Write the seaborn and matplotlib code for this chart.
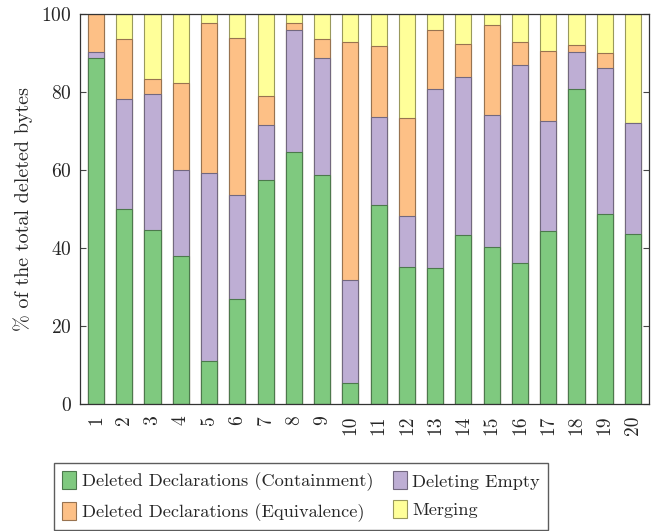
import numpy as np
import pandas as pd
import matplotlib.pyplot as plt
import seaborn as sns

samples = [str(i) for i in range(1, 21)]
containment = [88.6, 50.0, 44.7, 38.0, 11.0, 26.8, 57.5, 64.6, 58.8, 5.4,
               51.0, 35.2, 34.8, 43.4, 40.2, 36.2, 44.3, 80.7, 48.7, 43.5]
deleting_empty = [1.7, 28.1, 34.8, 22.0, 48.3, 26.7, 14.0, 31.3, 30.0, 26.5,
                  22.7, 12.9, 46.0, 40.5, 34.0, 50.8, 28.2, 9.6, 37.4, 28.6]
equivalence = [9.7, 15.5, 3.8, 22.2, 38.4, 40.3, 7.4, 1.7, 4.7, 60.8,
               18.0, 25.2, 15.2, 8.5, 23.1, 5.7, 18.1, 1.8, 3.8, 0.0]
merging = [0.0, 6.4, 16.7, 17.8, 2.3, 6.2, 21.1, 2.4, 6.5, 7.3,
           8.3, 26.7, 4.0, 7.6, 2.7, 7.3, 9.4, 7.9, 10.1, 27.9]

series = [
    ("Deleted Declarations (Containment)", containment, "#7fc97f"),
    ("Deleting Empty", deleting_empty, "#beaed4"),
    ("Deleted Declarations (Equivalence)", equivalence, "#fdc086"),
    ("Merging", merging, "#ffff99"),
]

sns.set_style("white")
plt.rcParams['font.family'] = ['cmr10', 'DejaVu Serif']
plt.rcParams['axes.formatter.use_mathtext'] = True

fig = plt.figure(figsize=(6.62, 5.31), dpi=100)
ax = fig.add_axes([80 / 662, 1 - 404 / 531, 569 / 662, 390 / 531])

# stacked bars: draw cumulative totals from the top segment down
df = pd.DataFrame({"sample": samples})
cum = np.zeros(len(samples))
cums = []
for name, vals, col in series:
    cum = cum + np.array(vals)
    cums.append((name, cum.copy(), col))

def darker(c, f=0.6):
    rgb = np.array(plt.matplotlib.colors.to_rgb(c))
    return tuple(rgb * f)

for name, vals, col in reversed(cums):
    df["v"] = vals
    sns.barplot(data=df, x="sample", y="v", color=col, width=0.57,
                edgecolor=darker(col), linewidth=0.8, saturation=1,
                label=name, ax=ax)

ax.set_xlim(-0.566, 19.566)
ax.set_ylim(0, 100)
ax.set_yticks([0, 20, 40, 60, 80, 100])
ax.set_xlabel("")
ax.set_ylabel("% of the total deleted bytes", fontsize=14.5, labelpad=6)
ax.tick_params(axis='x', length=0, labelrotation=90, labelsize=14, pad=8)
ax.tick_params(axis='y', direction='in', length=4, labelsize=14, pad=6,
               right=True, left=True, color='#444444')
for s in ax.spines.values():
    s.set_visible(True)
    s.set_color('#333333')
    s.set_linewidth(0.9)

handles, labels = ax.get_legend_handles_labels()
order = ["Deleted Declarations (Containment)", "Deleted Declarations (Equivalence)",
         "Deleting Empty", "Merging"]
hmap = dict(zip(labels, handles))
if ax.get_legend():
    ax.get_legend().remove()
fig.legend([hmap[o] for o in order], order, ncol=2, loc='upper left',
           bbox_to_anchor=(54 / 662, 1 - 463 / 531), borderaxespad=0,
           fontsize=13.2, frameon=True, fancybox=False, edgecolor='#333333',
           handlelength=0.77, handleheight=1.15, handletextpad=0.3,
           columnspacing=1.05, borderpad=0.45, labelspacing=0.55)

plt.savefig('out.png', dpi=100)
